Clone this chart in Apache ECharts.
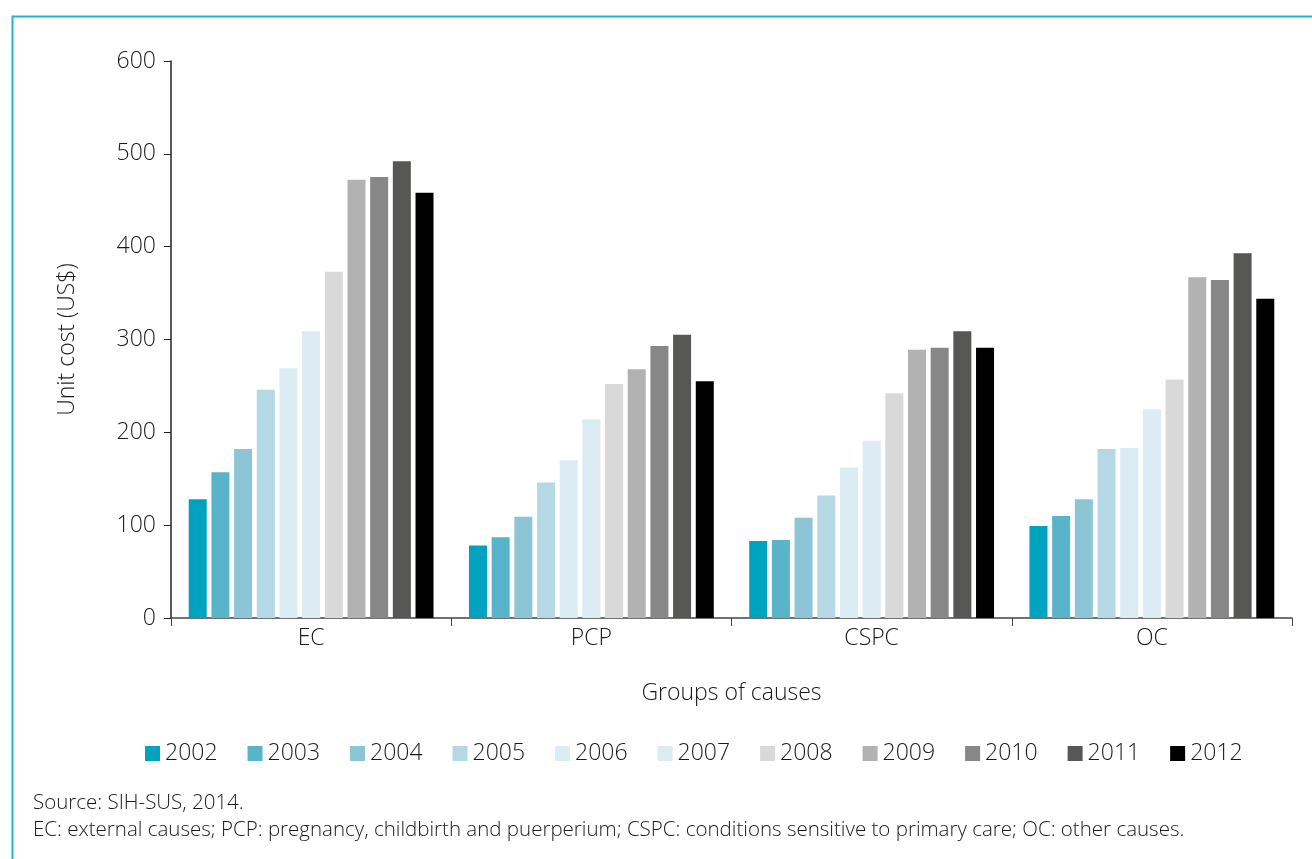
<!DOCTYPE html>
<html>
<head>
<meta charset="utf-8">
<script src="https://cdn.jsdelivr.net/npm/echarts@6/dist/echarts.min.js"></script>
<style>
  html, body { margin: 0; padding: 0; background: #fff; }
  #chart { width: 1312px; height: 859px; }
</style>
</head>
<body>
<div id="chart"></div>
<script>
// groups of causes on the x axis
var categories = ['EC', 'PCP', 'CSPC', 'OC'];
var years = ['2002', '2003', '2004', '2005', '2006', '2007', '2008', '2009', '2010', '2011', '2012'];
var colors = ['#00a3bd', '#57b4c9', '#8cc6d6', '#b4d9e4', '#dcecf3', '#ddebf2', '#d9d9d9', '#b2b2b2', '#878787', '#575756', '#000000'];

// unit cost (US$) per year, in order EC, PCP, CSPC, OC
var v2002 = [128, 78, 83, 99];
var v2003 = [157, 87, 84, 110];
var v2004 = [182, 109, 108, 128];
var v2005 = [246, 146, 132, 182];
var v2006 = [269, 170, 162, 183];
var v2007 = [309, 214, 191, 225];
var v2008 = [373, 252, 242, 257];
var v2009 = [472, 268, 289, 367];
var v2010 = [475, 293, 291, 364];
var v2011 = [492, 305, 309, 393];
var v2012 = [458, 255, 291, 344];
var values = [v2002, v2003, v2004, v2005, v2006, v2007, v2008, v2009, v2010, v2011, v2012];

var yTicks = [0, 100, 200, 300, 400, 500, 600];

var font = '"Open Sans", "Noto Sans", sans-serif';
var txt = { fontSize: 23, fontWeight: 300, color: '#1a1a1a', fontFamily: font };

var chart = echarts.init(document.getElementById('chart'));

chart.setOption({
    animation: false,
    textStyle: { fontFamily: font, color: '#1a1a1a' },
    color: colors,
    grid: {
        left: 171,
        right: 20,
        top: 61,
        bottom: 241
    },
    legend: {
        left: 140,
        top: 737,
        itemWidth: 15,
        itemHeight: 15,
        itemGap: 30,
        icon: 'rect',
        textStyle: txt,
        data: years
    },
    xAxis: {
        type: 'category',
        data: categories,
        name: 'Groups of causes',
        nameLocation: 'middle',
        nameGap: 64,
        nameTextStyle: txt,
        axisLine: { lineStyle: { color: '#444', width: 1.5 } },
        axisTick: { show: true, length: 8, lineStyle: { color: '#444' } },
        axisLabel: Object.assign({ margin: 9 }, txt)
    },
    yAxis: {
        type: 'value',
        min: yTicks[0],
        max: yTicks[yTicks.length - 1],
        interval: 100,
        name: 'Unit cost (US$)',
        nameLocation: 'middle',
        nameGap: 92,
        nameTextStyle: txt,
        axisLine: { show: true, lineStyle: { color: '#222', width: 1.5 } },
        axisTick: { show: true, length: 7, lineStyle: { color: '#222' } },
        axisLabel: Object.assign({ margin: 15 }, txt),
        splitLine: { show: false }
    },
    graphic: [{
        type: 'rect',
        left: 10,
        top: 14,
        shape: { width: 1320, height: 880 },
        style: { fill: 'none', stroke: '#1fb5c6', lineWidth: 2 },
        silent: true
    }, {
        type: 'text',
        left: 33,
        top: 793,
        style: { text: 'Source: SIH-SUS, 2014.', font: '300 20.5px ' + font, fill: '#1a1a1a' }
    }, {
        type: 'text',
        left: 33,
        top: 820,
        style: {
            text: 'EC: external causes; PCP: pregnancy, childbirth and puerperium; CSPC: conditions sensitive to primary care; OC: other causes.',
            font: '300 20.5px ' + font, fill: '#1a1a1a'
        }
    }],
    series: years.map(function (y, i) {
        return {
            name: y,
            type: 'bar',
            barWidth: 18,
            barGap: '26%',
            data: values[i]
        };
    })
});
</script>
</body>
</html>
